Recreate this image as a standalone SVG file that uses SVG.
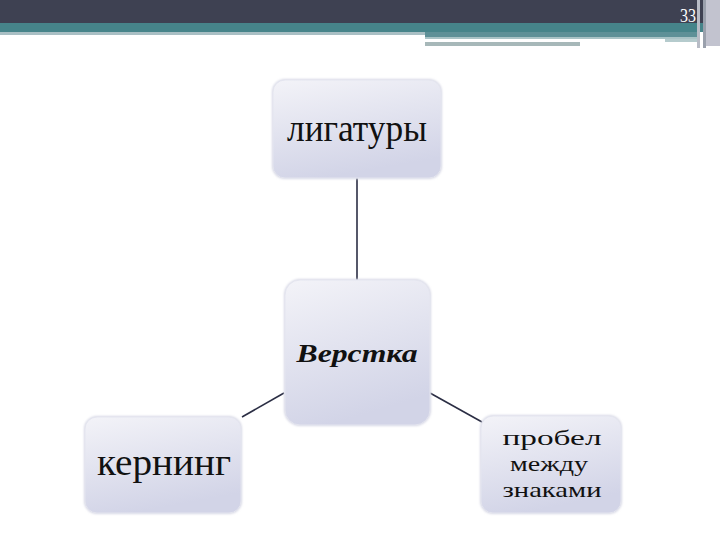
<svg xmlns="http://www.w3.org/2000/svg" width="720" height="540" viewBox="0 0 720 540">
<defs>
<linearGradient id="g" x1="0" y1="0" x2="0.3" y2="1">
<stop offset="0" stop-color="#f3f3f8"/>
<stop offset="1" stop-color="#d2d4e7"/>
</linearGradient>
<filter id="sh" x="-10%" y="-10%" width="120%" height="120%">
<feGaussianBlur stdDeviation="1.2"/>
</filter>
</defs>
<style>
.box{fill:url(#g);stroke:#e4e5ef;stroke-width:1}
.halo{fill:#d8d9e6;filter:url(#sh)}
.t{font-family:'Liberation Serif','Times New Roman','DejaVu Serif',serif;fill:#111;text-anchor:middle}
.c{stroke:#2b2e44;stroke-width:1.6;fill:none}
</style>
<rect width="720" height="540" fill="#ffffff"/>
<g id="header">
<rect x="0" y="0" width="720" height="23" fill="#3e4152"/>
<rect x="0" y="23" width="720" height="9" fill="#46848a"/>
<rect x="0" y="32" width="425" height="3" fill="#a9bfc4"/>
<rect x="425" y="32" width="275" height="5" fill="#5e9097"/>
<rect x="425" y="37" width="275" height="2" fill="#a9c3c6"/>
<rect x="425" y="39" width="240" height="3" fill="#ffffff"/>
<rect x="665" y="39" width="35" height="3" fill="#b5cbcd"/>
<rect x="425" y="42" width="155" height="4" fill="#a7b8b9"/>
<rect x="697" y="0" width="3" height="48" fill="#b8bcc6"/>
<rect x="703" y="0" width="3" height="48" fill="#9aa0ac"/>
<rect x="706" y="0" width="14" height="46" fill="#c2c3cf"/>
<text x="688" y="22" font-family="'Liberation Serif', serif" font-size="18" fill="#ffffff" text-anchor="middle" textLength="16" lengthAdjust="spacingAndGlyphs">33</text>
</g>
<g id="connectors">
<line class="c" x1="357" y1="178" x2="357" y2="280"/>
<line class="c" x1="284" y1="393" x2="242" y2="417"/>
<line class="c" x1="430" y1="393" x2="482" y2="422"/>
</g>
<g id="n-ligatury">
<rect class="halo" x="272" y="79" width="170" height="100" rx="13"/>
<rect class="box" x="273" y="80" width="168" height="98" rx="12"/>
<text class="t" x="357" y="141" font-size="38" textLength="140" lengthAdjust="spacingAndGlyphs">лигатуры</text>
</g>
<g id="n-verstka">
<rect class="halo" x="284" y="279" width="147" height="147" rx="16"/>
<rect class="box" x="285" y="280" width="145" height="145" rx="15"/>
<text class="t" x="357" y="362" font-size="26" font-weight="bold" font-style="italic" textLength="121" lengthAdjust="spacingAndGlyphs">Верстка</text>
</g>
<g id="n-kerning">
<rect class="halo" x="84" y="416" width="158" height="98" rx="13"/>
<rect class="box" x="85" y="417" width="156" height="96" rx="12"/>
<text class="t" x="164" y="475" font-size="37" textLength="134" lengthAdjust="spacingAndGlyphs">кернинг</text>
</g>
<g id="n-probel">
<rect class="halo" x="480" y="415" width="142" height="99" rx="13"/>
<rect class="box" x="481" y="416" width="140" height="97" rx="12"/>
<text class="t" x="552" y="445" font-size="22" textLength="99" lengthAdjust="spacingAndGlyphs">пробел</text>
<text class="t" x="549" y="471" font-size="22" textLength="78" lengthAdjust="spacingAndGlyphs">между</text>
<text class="t" x="552" y="497" font-size="22" textLength="99" lengthAdjust="spacingAndGlyphs">знаками</text>
</g>
</svg>
